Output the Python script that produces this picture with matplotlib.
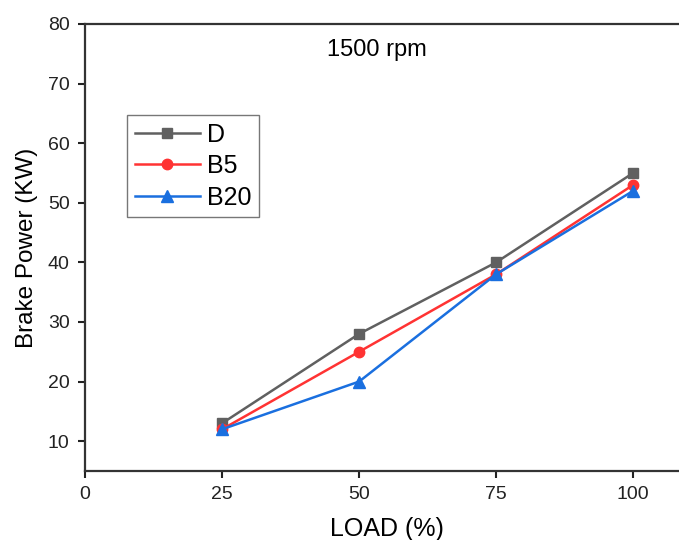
import matplotlib
matplotlib.use("Agg")
import matplotlib.pyplot as plt

plt.rcParams['font.family'] = ['Liberation Sans', 'DejaVu Sans']

load = [25, 50, 75, 100]
d_power = [13, 28, 40, 55]
b5_power = [12, 25, 38, 53]
b20_power = [12, 20, 38, 52]

fig = plt.figure(figsize=(6.79, 5.4), dpi=100)
# axes runs past the right edge, as in the original crop
ax = fig.add_axes([0.1252, 0.1278, 0.888, 0.8278])

ax.plot(load, d_power, color='#606060', marker='s', markersize=7, lw=1.8, label='D')
ax.plot(load, b5_power, color='#ff3333', marker='o', markersize=7.5, lw=1.8, label='B5')
ax.plot(load, b20_power, color='#1a6fdf', marker='^', markersize=8, lw=1.8, label='B20')

ax.set_xlim(0, 110)
ax.set_ylim(5, 80)
ax.set_xticks([0, 25, 50, 75, 100])
ax.set_yticks([10, 20, 30, 40, 50, 60, 70, 80])
ax.tick_params(direction='out', length=5, width=1.5, labelsize=14, colors='#222222', pad=6)
for s in ax.spines.values():
    s.set_linewidth(1.6)
    s.set_color('#333333')

ax.set_xlabel('LOAD (%)', fontsize=18, labelpad=10)
ax.set_ylabel('Brake Power (KW)', fontsize=17.5, labelpad=7)
ax.text(53.3, 75.6, '1500 rpm', fontsize=17, ha='center', va='center')

leg = ax.legend(loc='upper left', bbox_to_anchor=(0.07, 0.796), fontsize=18,
                frameon=True, fancybox=False, handlelength=2.6, borderaxespad=0,
                borderpad=0.3, labelspacing=0.3, handletextpad=0.3)
leg.get_frame().set_edgecolor('#555555')
leg.get_frame().set_linewidth(1.0)

fig.savefig('out.png', dpi=100)
